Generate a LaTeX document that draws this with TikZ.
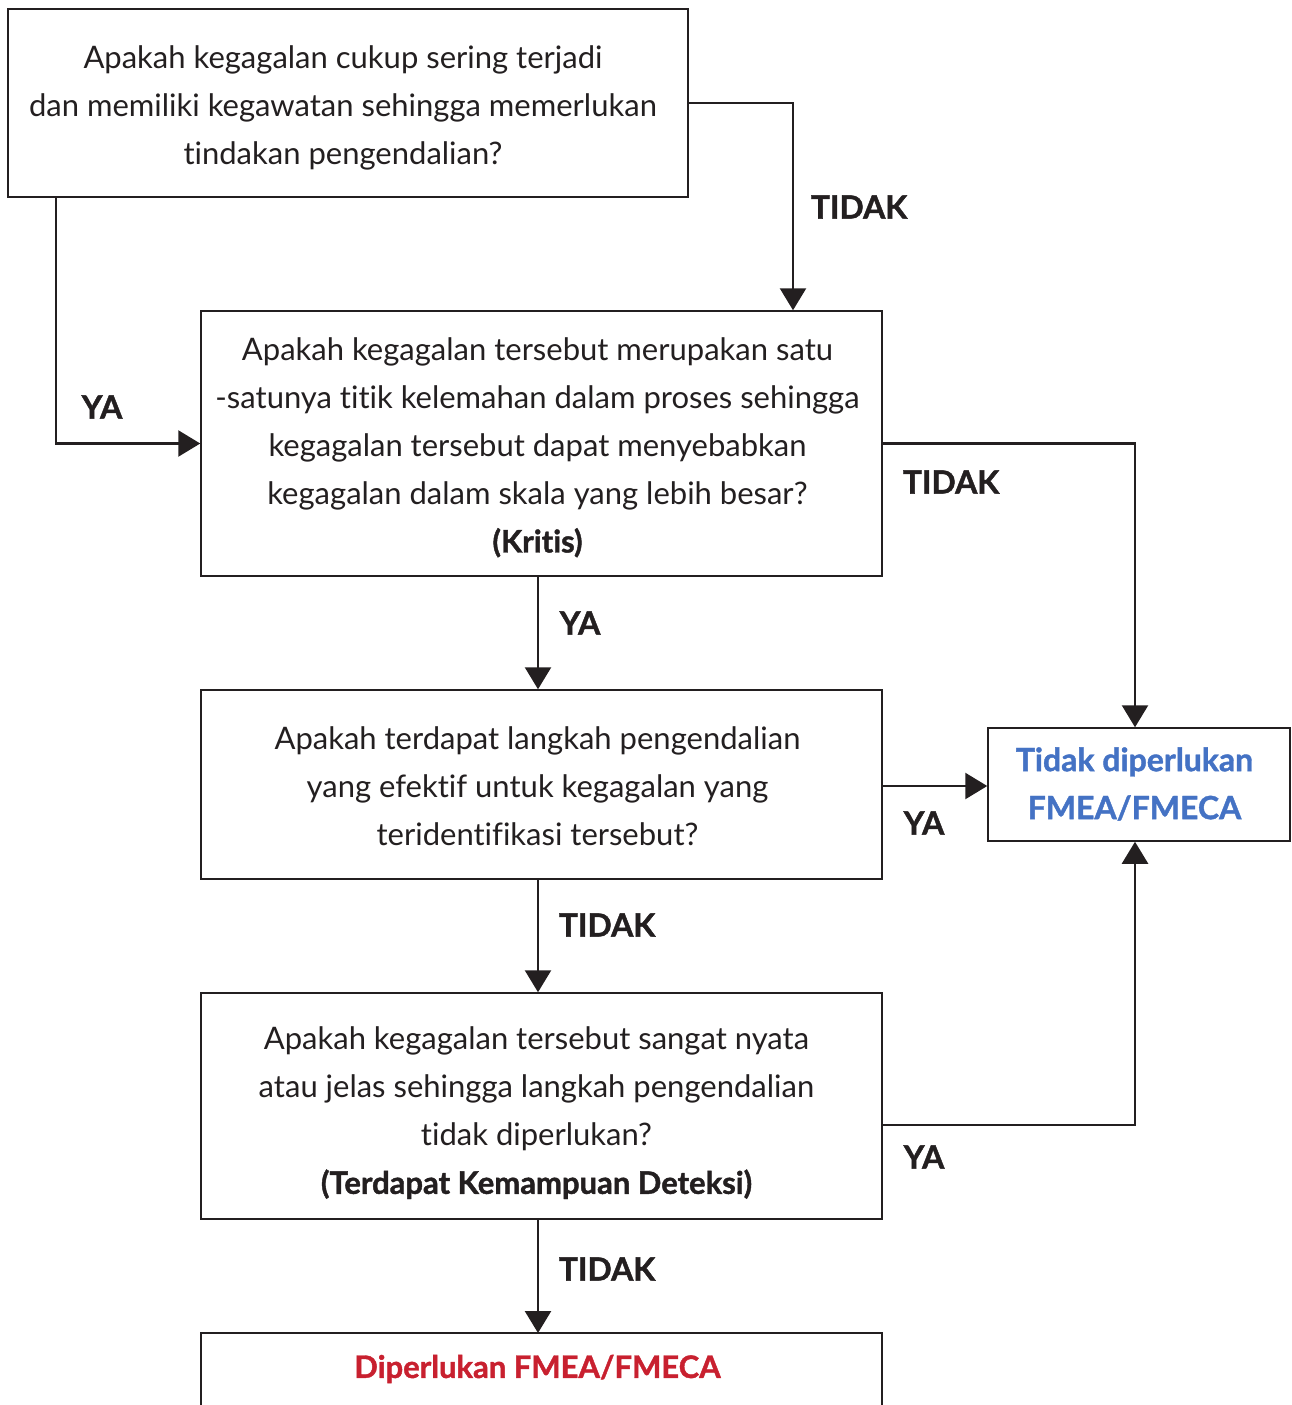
\documentclass[tikz,border=0pt]{standalone}
\usepackage{fontspec}
\setmainfont{Lato}[Ligatures=NoCommon, BoldFeatures={FakeBold=1.3}]
\usetikzlibrary{arrows.meta}
\definecolor{ink}{HTML}{231F20}
\definecolor{fblue}{HTML}{4472C4}
\definecolor{fred}{HTML}{C8202F}
\begin{document}
\begin{tikzpicture}[x=1pt,y=-1pt,
  frame/.style={draw=ink, line width=1.5pt, inner sep=0pt},
  txt/.style={inner sep=0pt, align=center, text=ink, font=\fontsize{31}{48}\selectfont},
  lbl/.style={text=ink, inner sep=0pt, font=\fontsize{32}{36}\selectfont\bfseries},
  conn/.style={draw=ink, line width=2.5pt, -{Triangle[width=26pt,length=22pt]}}]
\useasboundingbox (0,0) rectangle (1292,1405);
% boxes
\node[frame, minimum width=680, minimum height=188] (b1) at (348,103) {};
\node[frame, minimum width=681, minimum height=265] (b2) at (541.5,443.5) {};
\node[frame, minimum width=681, minimum height=189] (b3) at (541.5,784.5) {};
\node[frame, minimum width=681, minimum height=226] (b4) at (541.5,1106) {};
\node[frame, minimum width=302, minimum height=113] (b6) at (1139,784.5) {};
\coordinate (b5) at (541.5,1333);
\draw[draw=ink, line width=1.5pt] (201,1430) |- (b5) -| (882,1430);
% texts
\node[txt] (t1) at (343,108)
  {Apakah kegagalan cukup sering terjadi\\dan memiliki kegawatan sehingga memerlukan\\tindakan pengendalian?};
\node[txt] (t2) at (537.5,447.5)
  {Apakah kegagalan tersebut merupakan satu\\-satunya titik kelemahan dalam proses sehingga\\kegagalan tersebut dapat menyebabkan\\kegagalan dalam skala yang lebih besar?\\\textbf{(Kritis)}};
\node[txt] (t3) at (537.5,786.5)
  {Apakah terdapat langkah pengendalian\\yang efektif untuk kegagalan yang\\teridentifikasi tersebut?};
\node[txt] (t4) at (536.5,1113)
  {Apakah kegagalan tersebut sangat nyata\\atau jelas sehingga langkah pengendalian\\tidak diperlukan?\\\textbf{(Terdapat Kemampuan Deteksi)}};
\node[txt, text=fblue, font=\fontsize{32}{48}\selectfont\bfseries] (t6) at (1134.5,784)
  {Tidak diperlukan\\FMEA/FMECA};
\node[txt, text=fred, font=\fontsize{31}{48}\selectfont\bfseries] (t5) at (537.5,1369)
  {Diperlukan FMEA/FMECA};
% connectors
\draw[conn] (b1.east) -| ([xshift=251.5]b2.north);
\draw[conn] ([xshift=-292]b1.south) |- (b2.west);
\draw[conn] (b2.east) -| ([xshift=-4]b6.north);
\draw[conn] ([xshift=-3.5]b2.south) -- ([xshift=-3.5]b3.north);
\draw[conn] ([yshift=-1.5]b3.east) -- ([yshift=-1.5]b6.west);
\draw[conn] ([xshift=-3.5]b3.south) -- ([xshift=-3.5]b4.north);
\draw[conn] ([yshift=-19]b4.east) -| ([xshift=-4]b6.south);
\draw[conn] ([xshift=-3.5]b4.south) -- ([xshift=-3.5]b5);
% labels
\node[lbl] (l1) at (859,207) {TIDAK};
\node[lbl] (l2) at (102,407) {YA};
\node[lbl] (l3) at (951,482) {TIDAK};
\node[lbl] (l4) at (580,623) {YA};
\node[lbl] (l5) at (924,823) {YA};
\node[lbl] (l6) at (607,925) {TIDAK};
\node[lbl] (l7) at (924,1157) {YA};
\node[lbl] (l8) at (607,1269) {TIDAK};
\end{tikzpicture}
\end{document}
